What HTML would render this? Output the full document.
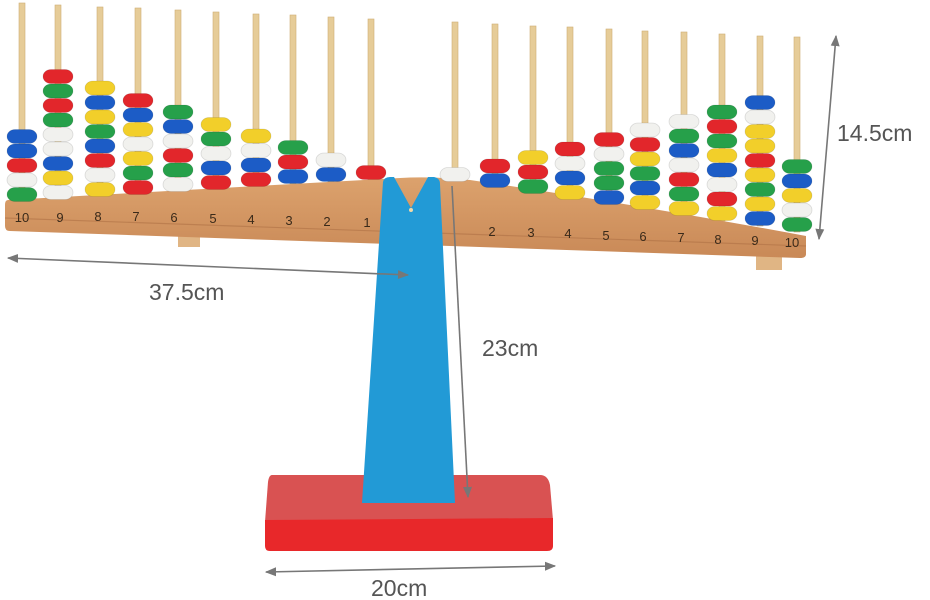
<!DOCTYPE html>
<html><head><meta charset="utf-8"><style>
html,body{margin:0;padding:0;background:#fff;width:930px;height:600px;overflow:hidden}
svg{display:block}
text{font-family:"Liberation Sans",sans-serif}
</style></head><body>
<svg id="s" width="930" height="600" viewBox="0 0 930 600" xmlns="http://www.w3.org/2000/svg">
<defs>
<marker id="ah" viewBox="0 0 10 10" refX="9" refY="5" markerWidth="7" markerHeight="7" orient="auto-start-reverse"><path d="M0,1 L10,5 L0,9 Z" fill="#777"/></marker>
<linearGradient id="bm" x1="0" y1="0" x2="0" y2="1"><stop offset="0" stop-color="#dca26d"/><stop offset="1" stop-color="#c98957"/></linearGradient>
</defs>
<rect x="178" y="228" width="22" height="19" fill="#e0b584"/>
<rect x="756" y="250" width="26" height="20" fill="#e0b584"/>
<path d="M272,475 L540,475 Q548,475 550,485 L553,520 L265,522 L268,482 Q269,475 272,475 Z" fill="#d95252"/>
<path d="M265,520 L553,518 L553,546 Q553,551 547,551 L270,551 Q265,551 265,546 Z" fill="#e8282a"/>
<g id="pegs"></g>
<path d="M8,200 Q220,188 400,178 Q430,176 470,180 Q640,205 806,236 L806,254 Q806,258 800,258 L10,231 Q5,231 5,226 L5,205 Q5,200 8,200 Z" fill="url(#bm)"/>
<path d="M5,218 L806,246" stroke="#b07246" stroke-width="1.2" opacity="0.6"/>
<g id="beads"></g>
<path d="M383,182 Q384,177 390,177 L394,177 L411,208 L428,177 L434,177 Q440,178 440,184 L455,503 L362,503 Z" fill="#229ad6"/>
<circle cx="411" cy="210" r="2" fill="#f2d9a8"/>
<g font-size="13" fill="#3a2a1a" text-anchor="middle">
<text x="22" y="222">10</text><text x="60" y="222">9</text><text x="98" y="221">8</text><text x="136" y="221">7</text><text x="174" y="222">6</text><text x="213" y="223">5</text><text x="251" y="224">4</text><text x="289" y="225">3</text><text x="327" y="226">2</text><text x="367" y="227">1</text>
<text x="492" y="236">2</text><text x="531" y="237">3</text><text x="568" y="238">4</text><text x="606" y="240">5</text><text x="643" y="241">6</text><text x="681" y="242">7</text><text x="718" y="244">8</text><text x="755" y="245">9</text><text x="792" y="247">10</text>
</g>
<g stroke="#777" stroke-width="1.6" fill="none">
<line x1="8" y1="258" x2="408" y2="275" marker-end="url(#ah)" marker-start="url(#ah)"/>
<line x1="452" y1="186" x2="468" y2="497" marker-end="url(#ah)"/>
<line x1="836" y1="36" x2="819" y2="239" marker-end="url(#ah)" marker-start="url(#ah)"/>
<line x1="266" y1="572" x2="555" y2="566" marker-end="url(#ah)" marker-start="url(#ah)"/>
</g>
<g font-size="23" fill="#555">
<text x="149" y="300">37.5cm</text>
<text x="482" y="356">23cm</text>
<text x="837" y="141">14.5cm</text>
<text x="371" y="596">20cm</text>
</g>
</svg>
<script>
var C={R:"#e2262b",G:"#26a04a",B:"#1c5cc6",Y:"#f2cf2a",W:"#f1f1ee"};
var D=[[22,3,202,"BBRWG"],[58,5,200,"RGRGWWBYW"],[100,7,197,"YBYGBRWY"],[138,8,195,"RBYWYGR"],[178,10,192,"GBWRGW"],[216,12,190,"YGWBR"],[256,14,187,"YWBR"],[293,15,184,"GRB"],[331,17,182,"WB"],[371,19,180,"R"],
[455,22,182,"W"],[495,24,188,"RB"],[533,26,194,"YRG"],[570,27,200,"RWBY"],[609,29,205,"RWGGB"],[645,31,210,"WRYGBY"],[684,32,216,"WGBWRGY"],[722,34,221,"GRGYBWRY"],[760,36,226,"BWYYRYGYB"],[797,37,232,"GBYWG"]];
var ns="http://www.w3.org/2000/svg",P=document.getElementById("pegs"),B=document.getElementById("beads");
D.forEach(function(d){
 var l=document.createElementNS(ns,"rect");l.setAttribute("x",d[0]-3);l.setAttribute("y",d[1]);l.setAttribute("width",6);l.setAttribute("height",d[2]-d[1]);l.setAttribute("fill","#e6cc98");l.setAttribute("stroke","#cfae74");l.setAttribute("stroke-width","0.6");P.appendChild(l);
 var s=d[3],n=s.length;
 for(var i=0;i<n;i++){var c=s[n-1-i];var r=document.createElementNS(ns,"rect");
  r.setAttribute("x",d[0]-15);r.setAttribute("y",d[2]-14.5*(i+1));r.setAttribute("width",30);r.setAttribute("height",14);r.setAttribute("rx",8);
  r.setAttribute("fill",C[c]);r.setAttribute("stroke","rgba(0,0,0,0.12)");r.setAttribute("stroke-width","0.8");B.appendChild(r);}
});
</script>
</body></html>
